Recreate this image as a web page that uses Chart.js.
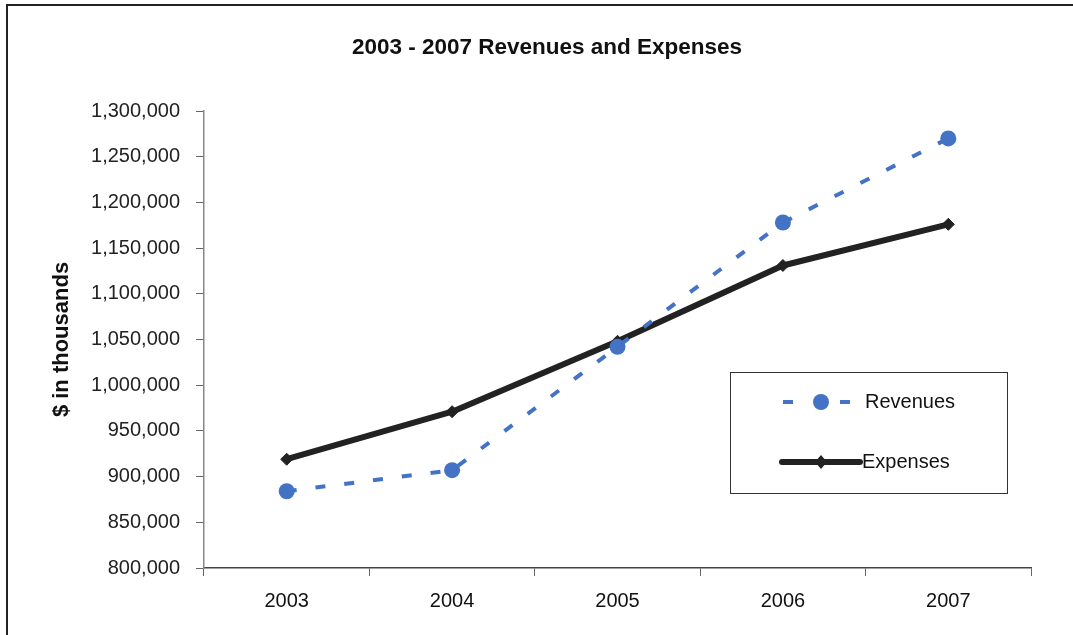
<!DOCTYPE html>
<html>
<head>
<meta charset="utf-8">
<script src="https://cdn.jsdelivr.net/npm/chart.js@4/dist/chart.umd.min.js"></script>
<style>
  html, body { margin: 0; padding: 0; background: #fff; }
  #wrap { width: 1073px; height: 635px; position: relative; }
</style>
</head>
<body>
<div id="wrap"><canvas id="lineChart" width="1073" height="635"></canvas></div>
<script>
const years = ['2003', '2004', '2005', '2006', '2007'];
const revenues = [884000, 907000, 1042000, 1178000, 1270000];
const expenses = [919000, 971000, 1048000, 1131000, 1176000];
const yTicks = { min: 800000, max: 1300000, step: 50000 };
const chartTitle = '2003 - 2007 Revenues and Expenses';

const FONT = '"Liberation Sans", Arial, sans-serif';

// white page, the thin frame at top/left, and the title (sits a bit right of centre)
const framePlugin = {
    id: 'frame',
    beforeDraw(chart) {
        const c = chart.ctx;
        c.save();
        c.fillStyle = '#fff';
        c.fillRect(0, 0, chart.width, chart.height);
        c.strokeStyle = '#222';
        c.lineWidth = 2;
        c.beginPath();
        c.moveTo(7, chart.height);
        c.lineTo(7, 5);
        c.lineTo(chart.width, 5);
        c.stroke();
        c.fillStyle = '#111';
        c.font = 'bold 22.5px ' + FONT;
        c.textAlign = 'center';
        c.textBaseline = 'middle';
        c.fillText(chartTitle, 547, 48);
        c.restore();
    }
};

// boxed legend inside the plot, like the spreadsheet one
const boxLegend = {
    id: 'boxLegend',
    afterDraw(chart) {
        const c = chart.ctx;
        const box = { x: 730, y: 372, w: 277, h: 121 };
        c.save();
        c.fillStyle = '#fff';
        c.fillRect(box.x, box.y, box.w, box.h);
        c.strokeStyle = '#333';
        c.lineWidth = 1;
        c.strokeRect(box.x + 0.5, box.y + 0.5, box.w, box.h);

        const rows = [402, 462];
        chart.data.datasets.forEach((ds, i) => {
            const y = rows[i];
            c.strokeStyle = ds.borderColor;
            c.lineWidth = ds.borderWidth;
            c.lineCap = i === 0 ? 'butt' : 'round';
            c.beginPath();
            if (i === 0) {
                c.moveTo(783, y); c.lineTo(793, y);
                c.moveTo(840, y); c.lineTo(850, y);
            } else {
                c.moveTo(782, y); c.lineTo(860, y);
            }
            c.stroke();
            c.fillStyle = ds.pointBackgroundColor;
            c.beginPath();
            if (ds.pointStyle === 'circle') {
                c.arc(821, y, ds.pointRadius, 0, Math.PI * 2);
            } else {
                const r = ds.pointRadius;
                c.moveTo(821 - r, y); c.lineTo(821, y - r - 1);
                c.lineTo(821 + r, y); c.lineTo(821, y + r + 1);
                c.closePath();
            }
            c.fill();
            c.fillStyle = '#111';
            c.font = '20px ' + FONT;
            c.textBaseline = 'middle';
            c.textAlign = 'left';
            c.fillText(ds.label, i === 0 ? 865 : 862, y);
        });
        c.restore();
    }
};

const canvas = document.getElementById('lineChart');
new Chart(canvas.getContext('2d'), {
    type: 'line',
    data: {
        labels: years,
        datasets: [
            {
                label: 'Revenues',
                data: revenues,
                borderColor: '#4472c4',
                borderWidth: 4,
                borderDash: [10, 19],
                pointStyle: 'circle',
                pointRadius: 8,
                pointBackgroundColor: '#4472c4',
                pointBorderColor: '#4472c4',
                pointBorderWidth: 0,
                tension: 0
            },
            {
                label: 'Expenses',
                data: expenses,
                borderColor: '#222222',
                borderWidth: 6,
                borderCapStyle: 'round',
                borderJoinStyle: 'round',
                pointStyle: 'rectRot',
                pointRadius: 6,
                pointBackgroundColor: '#222222',
                pointBorderColor: '#222222',
                pointBorderWidth: 1,
                tension: 0
            }
        ]
    },
    options: {
        responsive: false,
        animation: false,
        layout: { padding: { left: 30, right: 42, top: 111, bottom: 9 } },
        plugins: {
            legend: { display: false },
            tooltip: { enabled: false },
            title: { display: false }
        },
        scales: {
            x: {
                offset: true,
                grid: {
                    offset: true,
                    drawOnChartArea: false,
                    drawTicks: true,
                    tickLength: 8,
                    color: '#666'
                },
                border: { display: true, color: '#444', width: 1.5 },
                ticks: {
                    color: '#111',
                    padding: 13,
                    font: { family: FONT, size: 20 }
                }
            },
            y: {
                min: yTicks.min,
                max: yTicks.max,
                afterFit(scale) { scale.width = 204 - 30; },
                grid: {
                    drawOnChartArea: false,
                    drawTicks: true,
                    tickLength: 8,
                    color: '#666'
                },
                border: { display: true, color: '#888', width: 1.5 },
                ticks: {
                    stepSize: yTicks.step,
                    color: '#222',
                    padding: 16,
                    font: { family: FONT, size: 20 },
                    callback: v => v.toLocaleString('en-US')
                },
                title: {
                    display: true,
                    text: '$ in thousands',
                    color: '#111',
                    font: { family: FONT, size: 22, weight: 'bold' },
                    padding: { top: 19, bottom: 0 }
                }
            }
        }
    },
    plugins: [framePlugin, boxLegend]
});
</script>
</body>
</html>
